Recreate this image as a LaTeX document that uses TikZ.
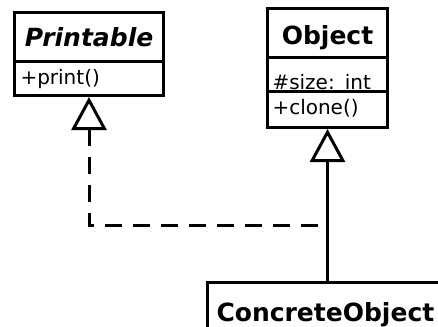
\documentclass[tikz,border=0pt]{standalone}
\usepackage{fontspec}
\setmainfont{DejaVu Sans}
\usetikzlibrary{arrows.meta}

\tikzset{
  uml/.style={line width=3pt, line join=miter},
  part/.style={uml, draw, anchor=north west, inner ysep=0pt, inner xsep=6pt,
    fill=white},
  title/.style={part, align=center, font=\fontsize{25}{30}\selectfont\bfseries},
  member/.style={part, align=left, font=\fontsize{20}{24}\selectfont},
  hollowtip/.tip={Triangle[open, length=33pt, width=35pt, line width=3pt]},
  inherit/.style={uml, -hollowtip},
  realize/.style={uml, hollowtip-, dash pattern=on 17pt off 11pt},
}

\begin{document}
\begin{tikzpicture}[x=1pt, y=-1pt]
  \useasboundingbox (0,0) rectangle (438,326);
  \clip (0,0) rectangle (438,326);

  % interface Printable
  \node[title, text width=137pt, text height=34pt, text depth=15pt]
    (printable) at (13,11) {\itshape Printable};
  \node[member, text width=137pt, text height=23pt, text depth=11pt]
    (printable-ops) at (13,60) {+print()};

  % class Object
  \node[title, text width=108pt, text height=36pt, text depth=13pt]
    (object) at (266,7) {Object};
  \node[member, text width=110pt, inner xsep=5pt, text height=31.5pt, text depth=2.5pt]
    (object-attrs) at (266,56) {\#size: int};
  \node[member, text width=110pt, inner xsep=5pt, text height=23pt, text depth=13pt]
    (object-ops) at (266,90) {+clone()};

  % class ConcreteObject (runs off the page)
  \node[title, align=left, inner xsep=9pt, text width=232pt, text height=39pt, text depth=21pt]
    (concrete) at (206,281) {ConcreteObject};

  % generalization and realization
  \draw[inherit] (concrete.north -| object-ops.south) -- (object-ops.south);
  \coordinate (join) at (object-ops.south |- 0,225);
  \draw[realize] (printable-ops.south) |- (join);
\end{tikzpicture}
\end{document}
